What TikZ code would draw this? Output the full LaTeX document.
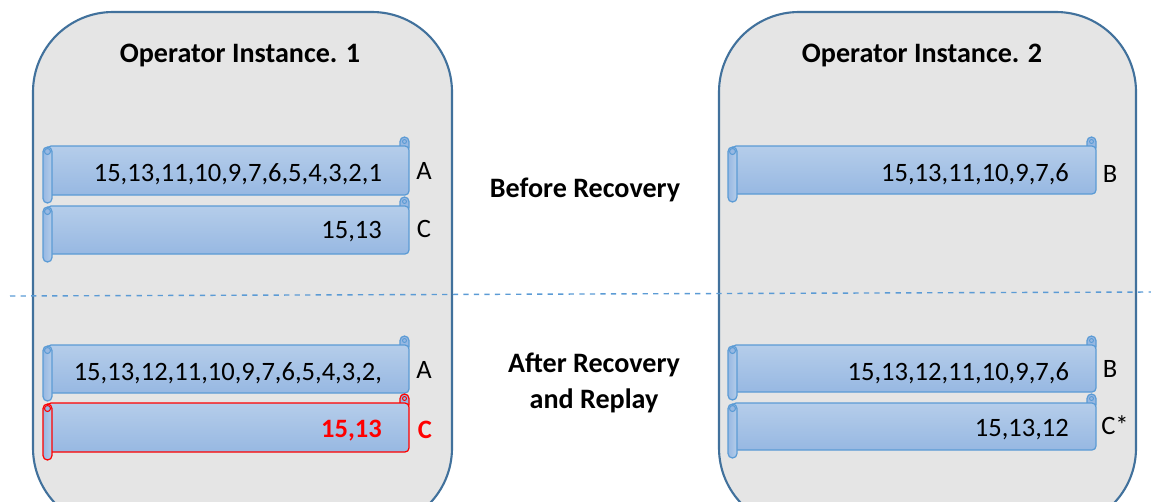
\documentclass[tikz,border=0pt]{standalone}
\usepackage{fontspec}
\setmainfont{Carlito}
\definecolor{boxline}{HTML}{41719C}
\definecolor{boxfill}{HTML}{E5E5E5}
\definecolor{scrollline}{HTML}{5B9BD5}
\definecolor{scrolltop}{HTML}{B5CDEA}
\definecolor{scrollbot}{HTML}{97B8E2}
\definecolor{sepline}{HTML}{5B9BD5}

% horizontal scroll: left, top, right, bottom, line colour
\newcommand{\scrollbox}[5]{%
  \draw[#5, line width=0.7pt, fill=scrollbot]
    (#3-9,#2+2) -- (#3-9,#2-4.5) arc[start angle=180, end angle=0, radius=0.09cm] -- (#3,#2+2) -- cycle;
  \draw[#5, line width=0.7pt, top color=scrolltop, bottom color=scrollbot, rounded corners=0.08cm]
    (#1+4,#2) -- (#3,#2) -- (#3,#4) -- (#1+4,#4) -- cycle;
  \draw[#5, line width=0.5pt] (#3-4.5,#2-4.5) circle[radius=0.04cm];
  \draw[#5, line width=0.7pt, left color=scrollbot, right color=scrolltop, rounded corners=0.09cm]
    (#1,#2+1) rectangle (#1+9,#4+8);
  \draw[#5, line width=0.6pt, fill=scrollbot] (#1+4.5,#2+5.5) circle[radius=0.06cm];
}

\begin{document}
\begin{tikzpicture}[x=0.02cm, y=-0.02cm,
  title/.style={font=\fontsize{16}{19}\selectfont\bfseries},
  nums/.style={font=\fontsize{15.1}{17}\selectfont, anchor=east},
  tag/.style={font=\fontsize{15.1}{17}\selectfont}]
\useasboundingbox (0,0) rectangle (1151,501);

% the two operator instances
\begin{scope}
  \clip (0,0) rectangle (1151,501);
  \draw[boxline, line width=1.2pt, fill=boxfill, rounded corners=1.6cm] (33,12) rectangle (452,528);
  \draw[boxline, line width=1.2pt, fill=boxfill, rounded corners=1.6cm] (719,12) rectangle (1136,528);
\end{scope}

\node[title] (op1) at (240,55) {Operator Instance. 1};
\node[title] (op2) at (922,55) {Operator Instance. 2};

% before recovery
\scrollbox{43}{146}{409}{195}{scrollline}
\scrollbox{43}{206}{409}{254}{scrollline}
\scrollbox{728}{146}{1096}{194}{scrollline}
\node[nums] (a1) at (388,174) {15,13,11,10,9,7,6,5,4,3,2,1};
\node[nums] (c1) at (388,232) {15,13};
\node[nums] (b1) at (1075,174) {15,13,11,10,9,7,6};
\node[tag] (la1) at (424,171) {A};
\node[tag] (lc1) at (424,229) {C};
\node[tag] (lb1) at (1110,174) {B};

\node[title] (before) at (585,190) {Before Recovery};

\draw[sepline, dashed, line width=0.8pt] (10,296) -- (1151,292);

% after recovery
\scrollbox{43}{345}{409}{393}{scrollline}
\scrollbox{43}{403}{409}{452}{red}
\scrollbox{728}{345}{1096}{392}{scrollline}
\scrollbox{728}{403}{1096}{450}{scrollline}
\node[nums] (a2) at (388,373) {15,13,12,11,10,9,7,6,5,4,3,2,};
\node[nums, red, font=\fontsize{15.1}{17}\selectfont\bfseries] (c2) at (388,431) {15,13};
\node[nums] (b2) at (1075,373) {15,13,12,11,10,9,7,6};
\node[nums] (cs2) at (1075,430) {15,13,12};
\node[tag] (la2) at (424,370) {A};
\node[tag, red, font=\fontsize{15.1}{17}\selectfont\bfseries] (lc2) at (425,430) {C};
\node[tag] (lb2) at (1110,369) {B};
\node[tag] (lcs2) at (1115,425) {C*};

\node[title, align=center, font=\fontsize{16}{20}\selectfont\bfseries] (after) at (594,383) {After Recovery\\and Replay};
\end{tikzpicture}
\end{document}
